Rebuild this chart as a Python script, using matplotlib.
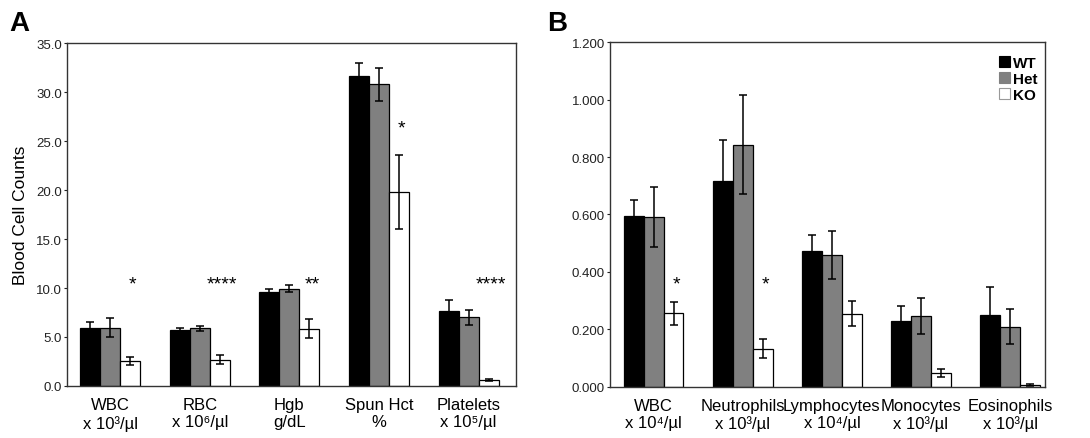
import matplotlib.pyplot as plt
from matplotlib.patches import Patch
import numpy as np

plt.rcParams['font.family'] = ['Liberation Sans', 'DejaVu Sans']

# Panel A
catA = ['WBC\nx 10³/µl', 'RBC\nx 10⁶/µl', 'Hgb\ng/dL', 'Spun Hct\n%', 'Platelets\nx 10⁵/µl']
wtA = [5.95, 5.75, 9.6, 31.6, 7.65]
wtA_err = [0.55, 0.15, 0.25, 1.35, 1.15]
hetA = [5.95, 5.9, 9.95, 30.8, 7.0]
hetA_err = [1.0, 0.25, 0.35, 1.7, 0.8]
koA = [2.55, 2.7, 5.85, 19.8, 0.65]
koA_err = [0.4, 0.5, 0.95, 3.75, 0.1]
starsA = ['*', '****', '**', '*', '****']
starA_y = [10.4, 10.4, 10.4, 26.3, 10.4]

# Panel B
catB = ['WBC\nx 10⁴/µl', 'Neutrophils\nx 10³/µl', 'Lymphocytes\nx 10⁴/µl',
        'Monocytes\nx 10³/µl', 'Eosinophils\nx 10³/µl']
wtB = [0.594, 0.715, 0.473, 0.230, 0.251]
wtB_err = [0.055, 0.143, 0.054, 0.050, 0.098]
hetB = [0.592, 0.843, 0.459, 0.246, 0.209]
hetB_err = [0.105, 0.172, 0.083, 0.062, 0.060]
koB = [0.256, 0.132, 0.254, 0.047, 0.007]
koB_err = [0.040, 0.033, 0.043, 0.015, 0.004]
starsB = ['*', '*', '', '', '']
starB_y = [0.357, 0.357, 0, 0, 0]

colors = ['black', '#808080', 'white']
names = ['WT', 'Het', 'KO']
w = 0.223

fig = plt.figure(figsize=(10.9, 4.39), dpi=100)
axA = fig.add_axes([0.0615, 0.1185, 0.412, 0.781])
axB = fig.add_axes([0.5596, 0.1169, 0.399, 0.7845])


def draw(ax, cats, series, errs, stars, star_y, ymax, fmt, xlim):
    x = np.arange(len(cats))
    for i, (vals, err) in enumerate(zip(series, errs)):
        ax.bar(x + (i - 1) * w, vals, w, color=colors[i], edgecolor='black',
               linewidth=0.9, yerr=err, capsize=3,
               error_kw=dict(elinewidth=1.1, capthick=1.1, ecolor='black'),
               label=names[i])
    for xi, s, y in zip(x, stars, star_y):
        if s:
            ax.text(xi + w + 0.03, y, s, ha='center', va='center', fontsize=14)
    ax.set_xlim(*xlim)
    ax.set_ylim(0, ymax)
    ax.set_xticks(x)
    ax.set_xticklabels(cats, fontsize=12, linespacing=1.2)
    ax.tick_params(axis='x', length=0, pad=8)
    ax.tick_params(axis='y', length=2, width=0.8, labelsize=9.5, pad=1.5,
                   colors='#222222')
    ax.yaxis.set_major_formatter(plt.FormatStrFormatter(fmt))
    for sp in ax.spines.values():
        sp.set_linewidth(1.0)
        sp.set_color('#333333')


draw(axA, catA, [wtA, hetA, koA], [wtA_err, hetA_err, koA_err], starsA, starA_y,
     35, '%.1f', (-0.48, 4.53))
axA.set_yticks(np.arange(0, 35.1, 5))
axA.set_ylabel('Blood Cell Counts', fontsize=12.5, labelpad=6)

draw(axB, catB, [wtB, hetB, koB], [wtB_err, hetB_err, koB_err], starsB, starB_y,
     1.2, '%.3f', (-0.49, 4.39))
axB.set_yticks(np.arange(0, 1.21, 0.2))

handles = [Patch(facecolor=c, edgecolor='#999999' if c == 'white' else c, linewidth=0.8)
           for c in colors]
axB.legend(handles, names, loc='upper right', bbox_to_anchor=(1.015, 1.0),
           frameon=False, handlelength=0.7, handleheight=0.7,
           handletextpad=0.2, labelspacing=0.12,
           prop={'weight': 'bold', 'size': 11})

fig.text(0.009, 0.93, 'A', fontsize=20, fontweight='bold')
fig.text(0.502, 0.93, 'B', fontsize=20, fontweight='bold')

fig.savefig('out.png', dpi=100)
